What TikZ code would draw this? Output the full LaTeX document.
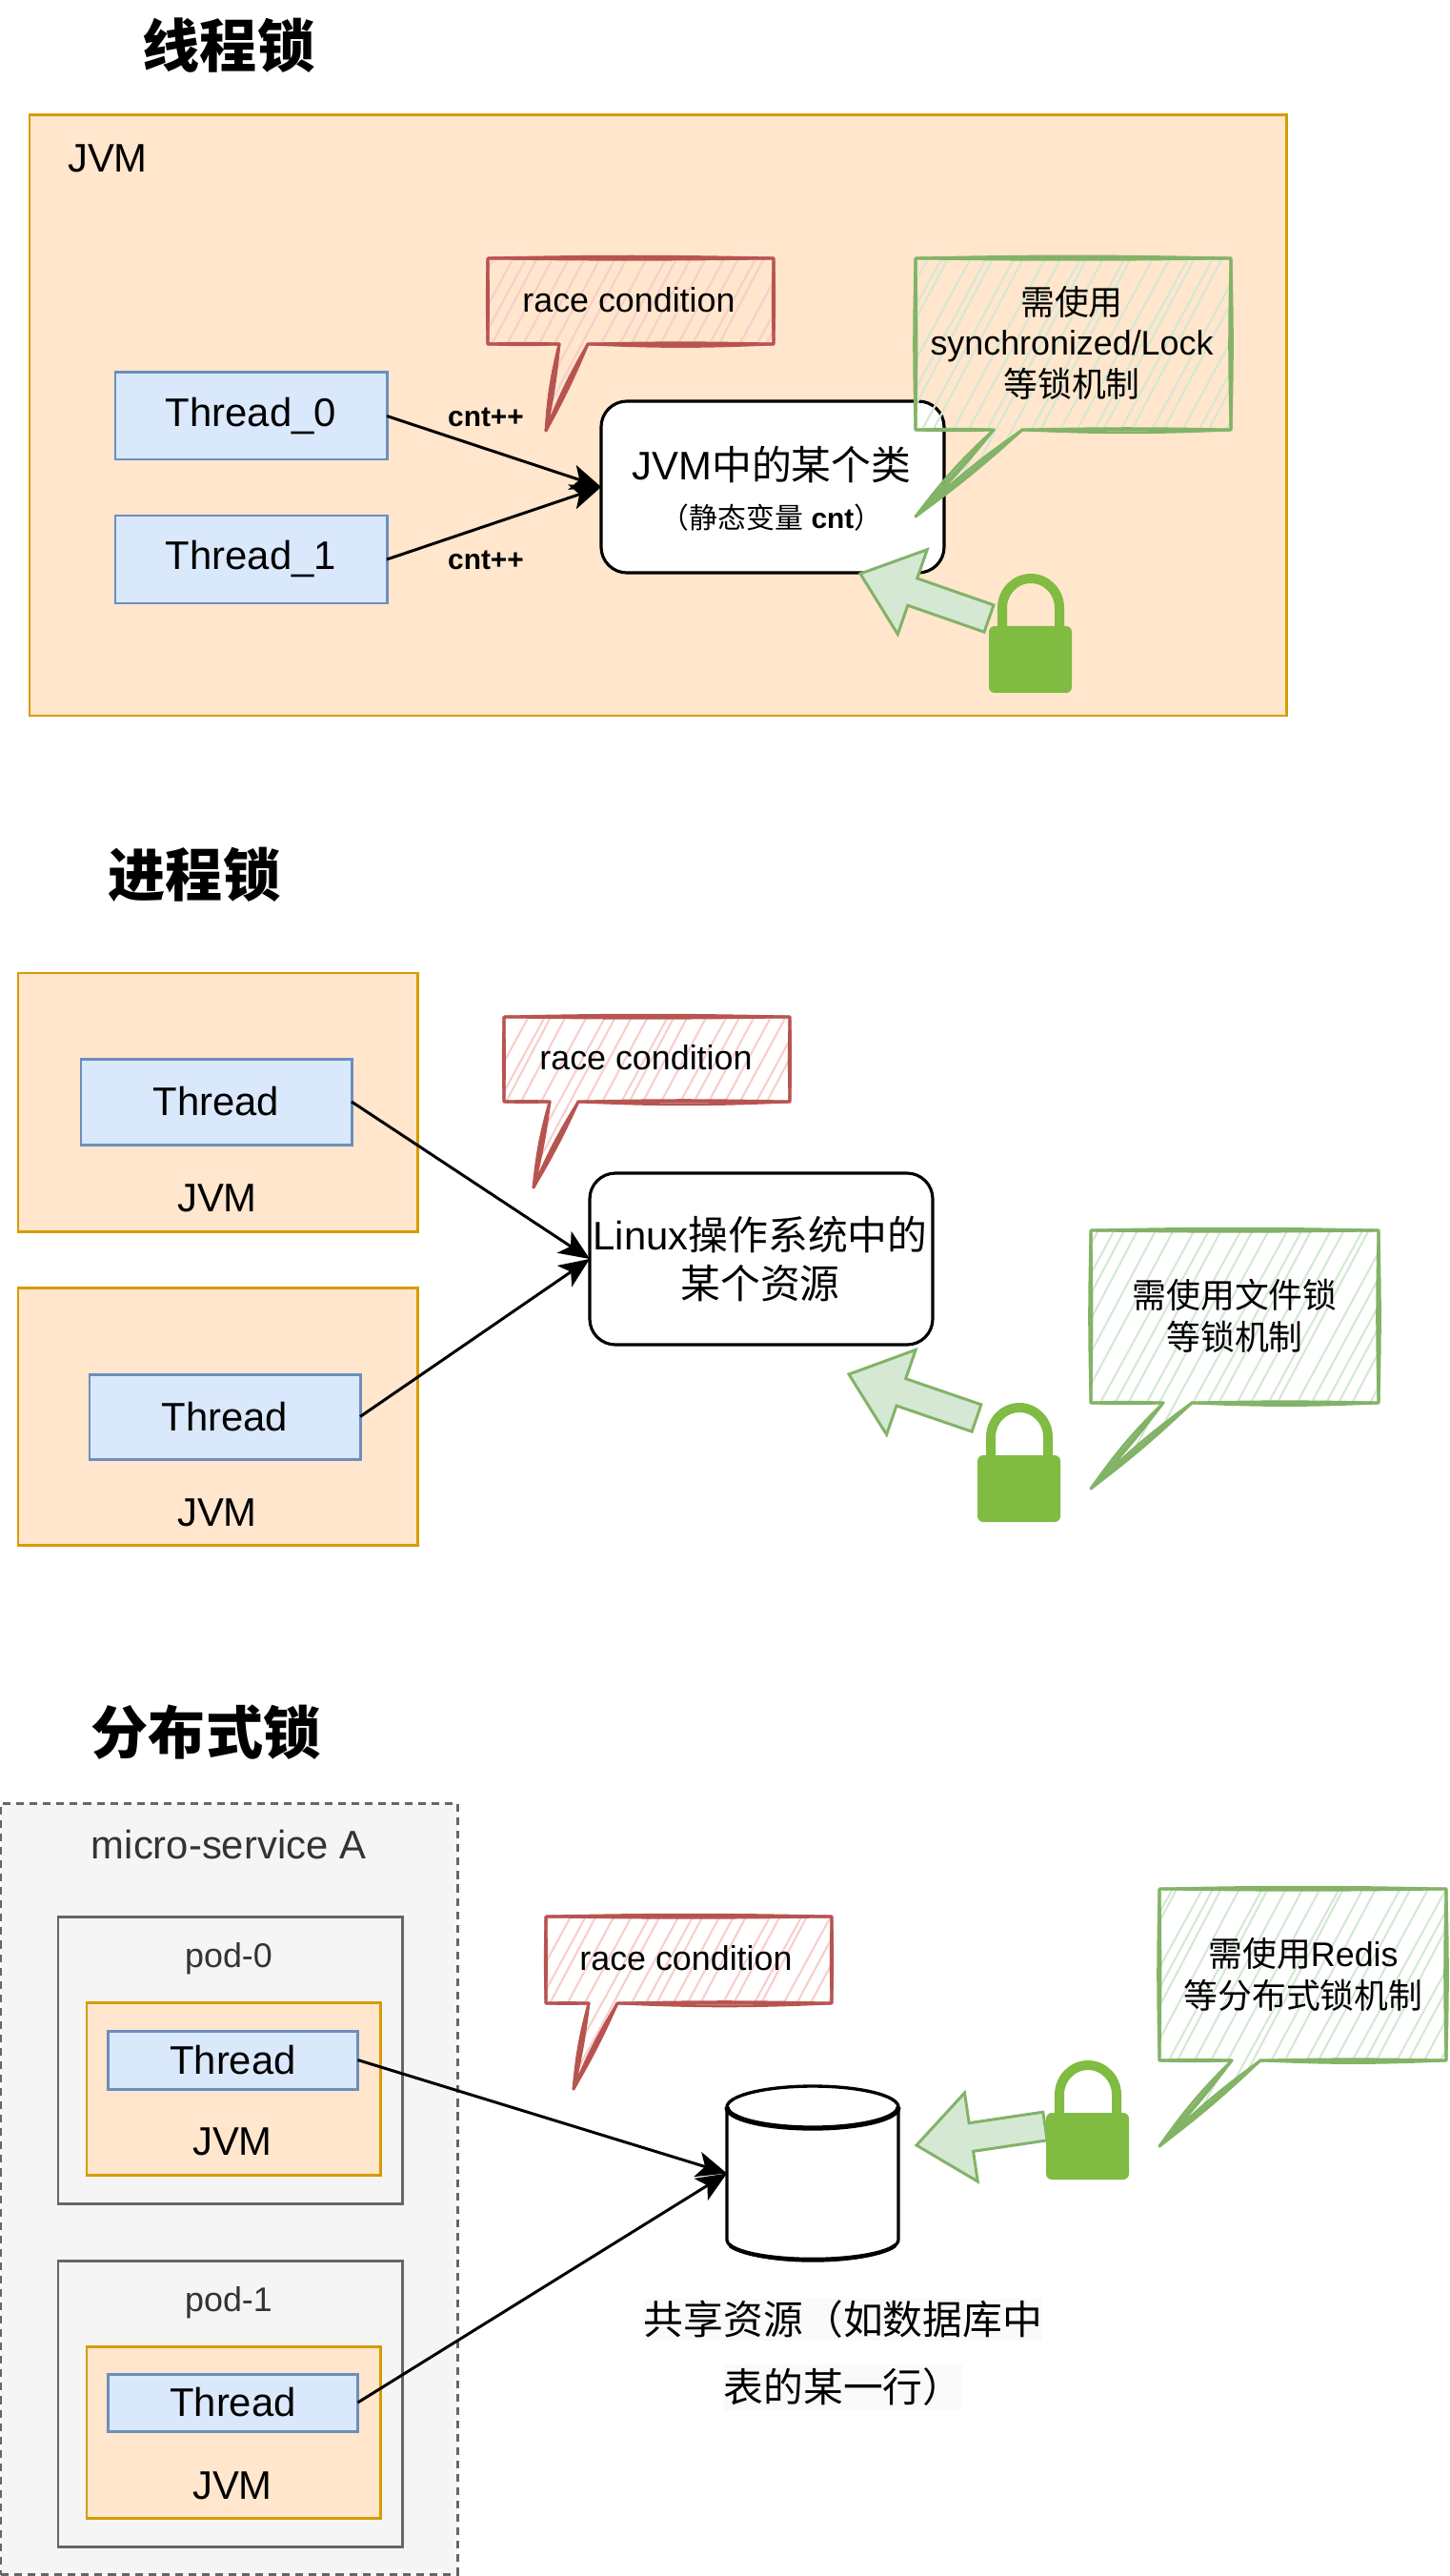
\documentclass[tikz,border=0pt]{standalone}
\usepackage{fontspec}
\setmainfont{Liberation Sans}
\newfontfamily\cjk{Noto Sans CJK SC}
\usepackage{tikz}
\usetikzlibrary{arrows.meta,calc}
\newcommand{\zh}[1]{{\cjk #1}}

\definecolor{orangefill}{HTML}{FFE6CC}
\definecolor{orangeline}{HTML}{D79B00}
\definecolor{bluefill}{HTML}{DAE8FC}
\definecolor{blueline}{HTML}{6C8EBF}
\definecolor{greyfill}{HTML}{F5F5F5}
\definecolor{greyline}{HTML}{666666}
\definecolor{greytext}{HTML}{333333}
\definecolor{redfill}{HTML}{F8CECC}
\definecolor{redline}{HTML}{B85450}
\definecolor{greenfill}{HTML}{D5E8D4}
\definecolor{greenline}{HTML}{82B366}
\definecolor{lockgreen}{HTML}{80BB42}
\definecolor{labelbg}{HTML}{FAFAFA}

\tikzset{
  bigtext/.style={font=\fontsize{11.9}{14.7}\selectfont},
  midtext/.style={font=\fontsize{10.2}{12.6}\selectfont},
  headtitle/.style={font=\fontsize{17.1}{20}\selectfont\cjk\bfseries,inner sep=0pt},
  plainlabel/.style={bigtext,inner sep=0pt},
  jvmbox/.style={draw=orangeline,fill=orangefill,line width=.85pt,anchor=north west,inner sep=0pt,outer sep=0pt},
  threadbox/.style={draw=blueline,fill=bluefill,line width=.85pt,anchor=north west,bigtext,inner sep=0pt,outer sep=0pt},
  podbox/.style={draw=greyline,fill=greyfill,line width=.85pt,anchor=north west,inner sep=0pt,outer sep=0pt},
  servicebox/.style={podbox,dash pattern=on 2.3pt off 1.7pt},
  resbox/.style={draw=black,fill=white,line width=.9pt,rounded corners=.27cm,anchor=north west,
    bigtext,align=center,inner sep=0pt,outer sep=0pt,minimum width=3.6cm,minimum height=1.8cm},
  flow/.style={draw=black,line width=.85pt,-{Stealth[length=.32cm,width=.27cm,inset=.08cm]}},
  countlabel/.style={font=\fontsize{8.5}{10}\selectfont\bfseries,inner sep=0pt},
  lockarrow/.style={draw=greenline,fill=greenfill,line width=.85pt,line join=miter},
  sketchline/.style={line width=.8pt,line join=round},
  cylline/.style={draw=black,fill=white,line width=.95pt},
  pics/lockicon/.style={code={
    \draw[lockgreen,line width=.1cm] (.14,-.62) -- (.14,-.36)
      arc[start angle=180,end angle=0,x radius=.3,y radius=.31] -- (.74,-.62);
    \fill[lockgreen,rounded corners=.06cm] (0,-.55) rectangle (.87,-1.25);
  }}
}

% colour, left, top, right, bottom, notch left, notch right, tip x, tip y
\newcommand{\sketchcallout}[9]{%
  \begin{scope}
    \clip (#2,#3) -- (#4,#3) -- (#4,#5) -- (#7,#5) -- (#8,#9) -- (#6,#5) -- (#2,#5) -- cycle;
    \foreach \k in {0,...,32} {
      \pgfmathsetmacro{\jit}{rnd*.07}
      \draw[#1fill,line width=.6pt] ({#2-1.6+\k*.16+\jit},{#9-.05}) -- ++({1.55+\jit},2.95);
    }
  \end{scope}
  \draw[sketchline,#1line] (#2,#3) -- (#4,#3) -- (#4,#5) -- (#7,#5) -- (#8,#9) -- (#6,#5) -- (#2,#5) -- cycle;
  \draw[sketchline,#1line] (#2,#3) to[bend left=1.2] (#4,#3) to[bend left=1.5] (#4,#5) to[bend left=2.5] (#7,#5)
    to[bend left=3] (#8,#9) to[bend left=5] (#6,#5) to[bend left=2] (#2,#5) to[bend left=1.5] (#2,#3);
  \draw[sketchline,#1line] (#2,#3) to[bend right=.8] (#4,#3) to[bend right=1.5] (#4,#5) to[bend right=1.2] (#7,#5)
    to[bend right=4] (#8,#9) to[bend right=3] (#6,#5) to[bend right=2] (#2,#5) to[bend right=1] (#2,#3);
}

\newcommand{\fatarrow}[2]{%
  \coordinate (hb) at ($(#2)!.58cm!(#1)$);
  \draw[lockarrow] ($(#1)!.15cm!90:(#2)$) -- ($(hb)!.15cm!90:(#2)$) -- ($(hb)!.47cm!90:(#2)$)
    -- (#2) -- ($(hb)!.47cm!-90:(#2)$) -- ($(hb)!.15cm!-90:(#2)$) -- ($(#1)!.15cm!-90:(#2)$) -- cycle;
}

\begin{document}
\begin{tikzpicture}
  \pgfmathsetseed{4242}
  \useasboundingbox (0,0) rectangle (15.21,-27.03);

  % thread lock
  \node[headtitle] (titleA) at (2.40,-.48) {线程锁};
  \node[jvmbox,minimum width=13.19cm,minimum height=6.30cm] (jvmA) at (.31,-1.21) {};
  \node[plainlabel] (jvmAlabel) at (1.13,-1.66) {JVM};
  \node[threadbox,minimum width=2.85cm,minimum height=.91cm] (threadzero) at (1.21,-3.91) {Thread\_0};
  \node[threadbox,minimum width=2.85cm,minimum height=.92cm] (threadone) at (1.21,-5.41) {Thread\_1};
  \node[resbox] (classbox) at (6.31,-4.21) {};
  \node[plainlabel] (classname) at (8.10,-4.88) {JVM\zh{中的某个类}};
  \node[font=\fontsize{8.5}{10}\selectfont,inner sep=0pt] (classfield) at (8.10,-5.43) {\zh{（静态变量} \textbf{cnt}\zh{）}};
  \draw[flow] (threadzero.east) -- (classbox.west);
  \draw[flow] (threadone.east) -- (classbox.west);
  \node[countlabel] (countzero) at (5.10,-4.38) {cnt++};
  \node[countlabel] (countone) at (5.10,-5.88) {cnt++};
  \sketchcallout{red}{5.12}{-2.71}{8.12}{-3.61}{5.87}{6.17}{5.73}{-4.52}
  \node[midtext,inner sep=0pt] (raceAtext) at (6.60,-3.15) {race condition};
  \sketchcallout{green}{9.61}{-2.71}{12.92}{-4.51}{10.43}{10.73}{9.61}{-5.42}
  \node[midtext,align=center,inner sep=0pt] (adviceAtext) at (11.25,-3.60) {\zh{需使用}\\[-.8pt]synchronized/Lock\\\zh{等锁机制}};
  \coordinate (tailA) at (10.38,-6.49);
  \coordinate (tipA) at (9.03,-6.02);
  \fatarrow{tailA}{tipA}
  \pic (lockA) at (10.38,-6.02) {lockicon};

  % process lock
  \node[headtitle] (titleB) at (2.04,-9.18) {进程锁};
  \node[jvmbox,minimum width=4.19cm,minimum height=2.71cm] (jvmB) at (.19,-10.21) {};
  \node[threadbox,minimum width=2.84cm,minimum height=.90cm] (threadB) at (.85,-11.11) {Thread};
  \node[plainlabel] (jvmBlabel) at (2.28,-12.57) {JVM};
  \node[jvmbox,minimum width=4.19cm,minimum height=2.70cm] (jvmC) at (.19,-13.51) {};
  \node[threadbox,minimum width=2.84cm,minimum height=.89cm] (threadC) at (.94,-14.42) {Thread};
  \node[plainlabel] (jvmClabel) at (2.28,-15.87) {JVM};
  \node[resbox] (linuxbox) at (6.19,-12.31) {};
  \node[bigtext,align=center,inner sep=0pt] (linuxtext) at (7.98,-13.21) {Linux\zh{操作系统中的}\\\zh{某个资源}};
  \draw[flow] (threadB.east) -- (linuxbox.west);
  \draw[flow] (threadC.east) -- (linuxbox.west);
  \sketchcallout{red}{5.29}{-10.67}{8.29}{-11.56}{5.77}{6.07}{5.60}{-12.46}
  \node[midtext,inner sep=0pt] (raceBtext) at (6.78,-11.10) {race condition};
  \sketchcallout{green}{11.45}{-12.91}{14.47}{-14.72}{12.21}{12.51}{11.45}{-15.62}
  \node[midtext,align=center,inner sep=0pt] (adviceBtext) at (12.96,-13.81) {\zh{需使用文件锁}\\\zh{等锁机制}};
  \coordinate (tailB) at (10.25,-14.88);
  \coordinate (tipB) at (8.91,-14.42);
  \fatarrow{tailB}{tipB}
  \pic (lockB) at (10.26,-14.72) {lockicon};

  % distributed lock
  \node[headtitle] (titleC) at (2.16,-18.18) {分布式锁};
  \node[servicebox,minimum width=4.79cm,minimum height=8.095cm] (service) at (.01,-18.92) {};
  \node[plainlabel,text=greytext] (servicename) at (2.40,-19.36) {micro-service A};
  \node[podbox,minimum width=3.61cm,minimum height=3.01cm] (podzero) at (.61,-20.11) {};
  \node[midtext,text=greytext,inner sep=0pt] (podzeroname) at (2.40,-20.55) {pod-0};
  \node[jvmbox,minimum width=3.08cm,minimum height=1.805cm] (jvmD) at (.91,-21.015) {};
  \node[threadbox,minimum width=2.62cm,minimum height=.61cm] (threadD) at (1.135,-21.31) {Thread};
  \node[plainlabel] (jvmDlabel) at (2.44,-22.47) {JVM};
  \node[podbox,minimum width=3.61cm,minimum height=3.00cm] (podone) at (.61,-23.72) {};
  \node[midtext,text=greytext,inner sep=0pt] (podonename) at (2.40,-24.16) {pod-1};
  \node[jvmbox,minimum width=3.08cm,minimum height=1.80cm] (jvmE) at (.91,-24.62) {};
  \node[threadbox,minimum width=2.62cm,minimum height=.60cm] (threadE) at (1.135,-24.91) {Thread};
  \node[plainlabel] (jvmElabel) at (2.44,-26.08) {JVM};
  \node[inner sep=0pt,outer sep=0pt,minimum width=1.80cm,minimum height=1.83cm] (sharedres) at (8.53,-22.805) {};
  \draw[cylline] (7.63,-22.11) arc[start angle=180,end angle=0,x radius=.9,y radius=.22]
    -- (9.43,-23.50) arc[start angle=0,end angle=-180,x radius=.9,y radius=.22] -- cycle;
  \draw[black,line width=1.5pt] (7.63,-22.11) arc[start angle=180,end angle=360,x radius=.9,y radius=.22];
  \draw[black,line width=1.2pt] (7.66,-23.56) arc[start angle=195,end angle=345,x radius=.9,y radius=.2];
  \draw[flow] (threadD.east) -- (sharedres.west);
  \draw[flow] (threadE.east) -- (sharedres.west);
  \node[bigtext,fill=labelbg,inner sep=0pt,minimum height=.44cm] (sharedone) at (8.85,-24.34) {\zh{共享资源（如数据库中}};
  \node[bigtext,fill=labelbg,inner sep=0pt,minimum height=.48cm] (sharedtwo) at (8.85,-25.05) {\zh{表的某一行）}};
  \sketchcallout{red}{5.73}{-20.11}{8.73}{-21.02}{6.18}{6.48}{6.02}{-21.92}
  \node[midtext,inner sep=0pt] (raceCtext) at (7.20,-20.55) {race condition};
  \sketchcallout{green}{12.17}{-19.82}{15.18}{-21.62}{12.93}{13.23}{12.17}{-22.52}
  \node[midtext,align=center,inner sep=0pt] (adviceCtext) at (13.68,-20.72) {\zh{需使用}Redis\\\zh{等分布式锁机制}};
  \coordinate (tailC) at (10.97,-22.31);
  \coordinate (tipC) at (9.62,-22.51);
  \fatarrow{tailC}{tipC}
  \pic (lockC) at (10.98,-21.62) {lockicon};
\end{tikzpicture}
\end{document}
